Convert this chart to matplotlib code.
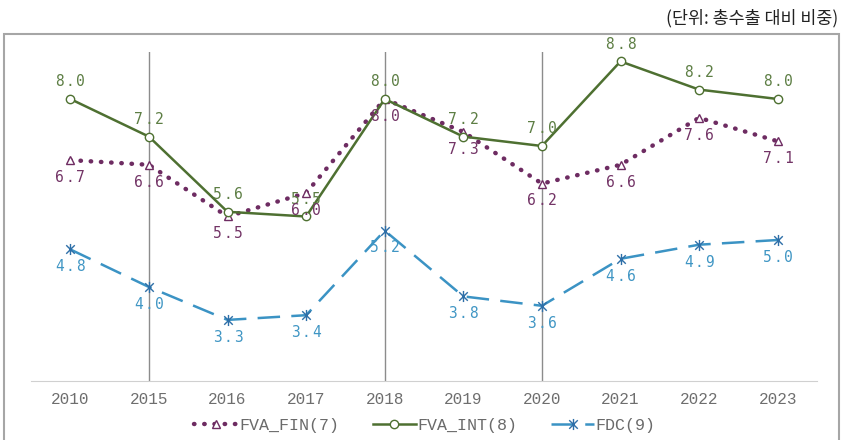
import matplotlib.pyplot as plt
from matplotlib.path import Path
from matplotlib.patches import Rectangle
import numpy as np

years = ['2010', '2015', '2016', '2017', '2018', '2019', '2020', '2021', '2022', '2023']
fva_fin = [6.7, 6.6, 5.5, 6.0, 8.0, 7.3, 6.2, 6.6, 7.6, 7.1]
fva_int = [8.0, 7.2, 5.6, 5.5, 8.0, 7.2, 7.0, 8.8, 8.2, 8.0]
fdc = [4.8, 4.0, 3.3, 3.4, 5.2, 3.8, 3.6, 4.6, 4.9, 5.0]
vlines_at = ['2015', '2018', '2020']

c_fin = '#6e2c62'
c_int = '#4e7031'
c_fdc = '#3b93c4'

# x plus vertical bar, like the spreadsheet "star" marker
star = Path([(-1, -1), (1, 1), (-1, 1), (1, -1), (0, -1.3), (0, 1.3)],
            [Path.MOVETO, Path.LINETO, Path.MOVETO, Path.LINETO, Path.MOVETO, Path.LINETO])

fig = plt.figure(figsize=(8.44, 4.4), dpi=100)
ax = fig.add_axes([31 / 844, (440 - 381) / 440, (817 - 31) / 844, (381 - 52) / 440])

x = np.arange(len(years))

for y in vlines_at:
    ax.axvline(years.index(y), color='#8c8c8c', lw=1, zorder=1)

ax.plot(x, fva_fin, color=c_fin, lw=3.2, linestyle=(0, (0.1, 2.2)), dash_capstyle='round',
        marker='^', markersize=6, markerfacecolor='white', markeredgecolor=c_fin,
        markeredgewidth=1, label='FVA_FIN(7)', zorder=3)
ax.plot(x, fva_int, color=c_int, lw=1.8, marker='o', markersize=6,
        markerfacecolor='white', markeredgecolor=c_int, markeredgewidth=1,
        label='FVA_INT(8)', zorder=3)
ax.plot(x, fdc, color=c_fdc, lw=1.8, linestyle=(0, (9, 4.5)), marker=star, markersize=8,
        markeredgecolor='#2e6fa8', markeredgewidth=1, label='FDC(9)', zorder=3)


def label(i, v, dy, color):
    # letter-spaced value label, one character at a time
    s = f'{v:.1f}'
    step = 7.6
    for k, ch in enumerate(s):
        dx = (k - (len(s) - 1) / 2) * step
        ax.annotate(ch, (i, v), xytext=(dx, dy), textcoords='offset points',
                    ha='center', va='center', color=color,
                    family='DejaVu Sans Mono', fontsize=10.5)


for i in x:
    label(i, fva_int[i], 12.5, '#5d7e44')
    label(i, fva_fin[i], -12.5, '#733466')
    label(i, fdc[i], -12.5, '#4096c4')

ax.set_xlim(-0.5, len(years) - 0.5)
ax.set_ylim(2, 9)
ax.set_xticks(x)
ax.set_xticklabels(years, family='Liberation Mono', fontsize=11.5, color='#6e6e6e')
ax.tick_params(axis='x', length=0, pad=8)
ax.set_yticks([])
for s in ['top', 'left', 'right']:
    ax.spines[s].set_visible(False)
ax.spines['bottom'].set_color('#d0d0d0')
ax.set_facecolor('none')

leg = fig.legend(loc='center', bbox_to_anchor=(425 / 844, 1 - 425 / 440), ncol=3, frameon=False,
                 prop={'family': 'Liberation Mono', 'size': 12}, handlelength=2.6,
                 handletextpad=0.1, columnspacing=2.0)
for t in leg.get_texts():
    t.set_color('#6a6a6a')

fig.patches.append(Rectangle((4 / 844, -0.05), (839 - 4) / 844, (440 - 34) / 440 + 0.05,
                             transform=fig.transFigure, fill=False, edgecolor='#a6a6a6', lw=1.5))

fig.text(838 / 844, 1 - 18 / 440, '(단위: 총수출 대비 비중)', ha='right', va='center',
         family=['Noto Sans CJK KR', 'DejaVu Sans'], fontsize=12.5, color='#222222')

fig.savefig('out.png', dpi=100)
